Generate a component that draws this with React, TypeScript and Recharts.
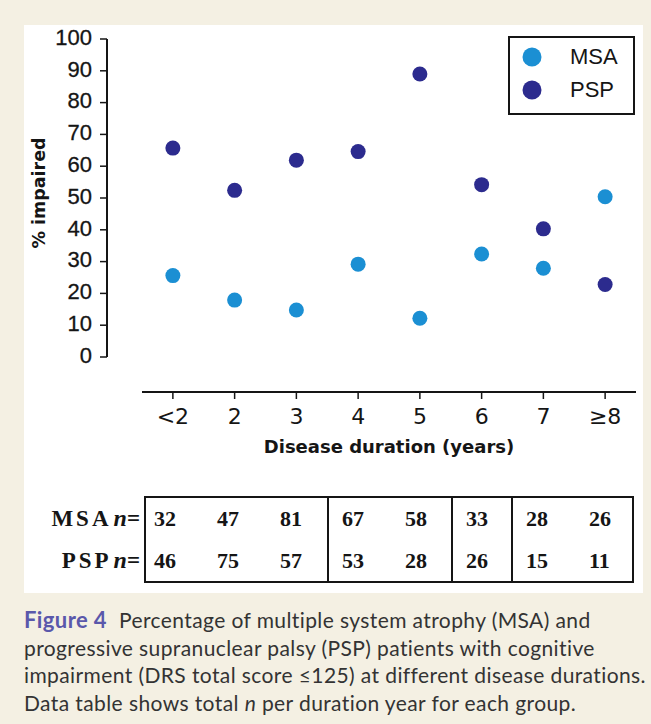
import React from 'react';
import { ScatterChart, Scatter, XAxis, YAxis, Legend } from 'recharts';

// ---------- data ----------
const CATEGORIES = ['<2', '2', '3', '4', '5', '6', '7', '≥8'];
const MSA_VALUES = [25.6, 17.9, 14.8, 29.2, 12.2, 32.4, 27.9, 50.4];
const PSP_VALUES = [65.7, 52.4, 61.9, 64.6, 89.0, 54.2, 40.3, 22.8];
const Y_TICKS = [0, 10, 20, 30, 40, 50, 60, 70, 80, 90, 100];
const MSA_N = [32, 47, 81, 67, 58, 33, 28, 26];
const PSP_N = [46, 75, 57, 53, 28, 26, 15, 11];
const TABLE_GROUPS = [3, 2, 1, 2];
const X_TITLE = 'Disease duration (years)';
const Y_TITLE = '% impaired';

// ---------- styles ----------
const BEIGE = '#f4f0e3';
const INK = '#151515';
const MSA_COLOR = '#1b8fd3';
const PSP_COLOR = '#2c2b8e';
const SERIES = [
  { name: 'MSA', color: MSA_COLOR, values: MSA_VALUES, n: MSA_N },
  { name: 'PSP', color: PSP_COLOR, values: PSP_VALUES, n: PSP_N },
];
const GROUP_WIDTHS = [181, 124, 60, 121];
const GROUP_PAD = [8, 13, 13, 13];

const buildData = (values: number[]) => CATEGORIES.map((cat, i) => ({ cat, value: values[i] }));

const Dot = (props: any) => {
  const { cx, cy, fill } = props;
  if (cx == null || cy == null) return null;
  return <circle cx={cx} cy={cy} r={7.5} fill={fill} />;
};

const YTitle = (props: any) => {
  const vb = props.viewBox || {};
  const cx = vb.x + 39;
  const cy = vb.y + vb.height / 2 - 5;
  return (
    <text
      x={cx}
      y={cy}
      transform={`rotate(-90 ${cx} ${cy})`}
      textAnchor="middle"
      dominantBaseline="central"
      style={{ fontFamily: 'DejaVu Sans', fontWeight: 700, fontSize: 17.5, fill: INK }}
    >
      {Y_TITLE}
    </text>
  );
};

const XTitle = (props: any) => {
  const vb = props.viewBox || {};
  const cx = vb.x + vb.width / 2;
  const cy = vb.y + 61;
  return (
    <text
      x={cx}
      y={cy}
      textAnchor="middle"
      style={{ fontFamily: 'DejaVu Sans', fontWeight: 700, fontSize: 18, fill: INK }}
    >
      {X_TITLE}
    </text>
  );
};

const LegendBox = () => (
  <div
    style={{
      width: 127,
      height: 79,
      boxSizing: 'border-box',
      border: `2px solid ${INK}`,
      background: '#fff',
      paddingTop: 8,
      paddingLeft: 12,
    }}
  >
    {SERIES.map((s, i) => (
      <div key={s.name} style={{ display: 'flex', alignItems: 'center', height: 22, marginTop: i === 0 ? 0 : 11 }}>
        <svg width={20} height={20}>
          <circle cx={10} cy={10} r={9.5} fill={s.color} />
        </svg>
        <span
          style={{
            marginLeft: 28,
            fontFamily: 'Liberation Sans',
            fontSize: 22,
            color: INK,
            lineHeight: '22px',
          }}
        >
          {s.name}
        </span>
      </div>
    ))}
  </div>
);

const DataTable = () => {
  let start = 0;
  const groups = TABLE_GROUPS.map((count, gi) => {
    const cols = CATEGORIES.slice(start, start + count).map((_, k) => start + k);
    start += count;
    return { cols, gi };
  });
  const rowStyle: React.CSSProperties = { height: 41.5, lineHeight: '41.5px', whiteSpace: 'nowrap' };
  return (
    <>
      <div
        style={{
          position: 'absolute',
          left: 0,
          top: 498,
          width: 140,
          textAlign: 'right',
          fontFamily: 'Liberation Serif',
          fontSize: 23,
          color: INK,
        }}
      >
        {SERIES.map((s) => (
          <div key={s.name} style={rowStyle}>
            <b style={{ letterSpacing: 3 }}>{s.name}</b>
            <i style={{ fontWeight: 700, fontSize: 24, marginLeft: 2 }}>n</i>
            <b>=</b>
          </div>
        ))}
      </div>
      <div
        style={{
          position: 'absolute',
          left: 144,
          top: 496,
          height: 87,
          boxSizing: 'border-box',
          border: `2px solid ${INK}`,
          display: 'flex',
          fontFamily: 'Liberation Serif',
          fontWeight: 700,
          fontSize: 22,
          color: INK,
        }}
      >
        {groups.map(({ cols, gi }) => (
          <div
            key={gi}
            style={{
              width: GROUP_WIDTHS[gi],
              boxSizing: 'border-box',
              borderLeft: gi === 0 ? 'none' : `2px solid ${INK}`,
              paddingLeft: GROUP_PAD[gi],
            }}
          >
            {SERIES.map((s) => (
              <div key={s.name} style={rowStyle}>
                {cols.map((c) => (
                  <span key={c} style={{ display: 'inline-block', width: 63 }}>
                    {s.n[c]}
                  </span>
                ))}
              </div>
            ))}
          </div>
        ))}
      </div>
    </>
  );
};

export default function App() {
  return (
    <div
      style={{
        position: 'absolute',
        left: 0,
        top: 0,
        width: 651,
        height: 724,
        background: BEIGE,
        overflow: 'hidden',
      }}
    >
      <div style={{ position: 'absolute', left: 24, top: 25, width: 619, height: 568, background: '#fff' }} />
      <div style={{ position: 'absolute', left: 0, top: 0 }}>
        <ScatterChart width={651} height={462} margin={{ top: 39, right: 15, bottom: 0, left: 0 }}>
          <XAxis xAxisId="gap" type="number" domain={[0, 1]} height={35} tick={false} axisLine={false} tickLine={false} />
          <XAxis
            xAxisId="main"
            dataKey="cat"
            type="category"
            allowDuplicatedCategory={false}
            height={70}
            tickSize={7}
            tickMargin={9}
            axisLine={{ stroke: INK, strokeWidth: 2 }}
            tickLine={{ stroke: INK, strokeWidth: 1.5 }}
            tick={{ fontFamily: 'DejaVu Sans', fontSize: 22, fill: INK }}
            interval={0}
            label={<XTitle />}
          />
          <YAxis yAxisId="gap" type="number" domain={[0, 1]} width={35} tick={false} axisLine={false} tickLine={false} />
          <YAxis
            yAxisId="main"
            dataKey="value"
            type="number"
            domain={[0, 100]}
            ticks={Y_TICKS}
            interval={0}
            width={107}
            tickSize={7}
            tickMargin={8}
            axisLine={{ stroke: INK, strokeWidth: 2 }}
            tickLine={{ stroke: INK, strokeWidth: 1.5 }}
            tick={{ fontFamily: 'Liberation Sans', fontSize: 22, fill: INK, dy: -2, stroke: INK, strokeWidth: 0.3 }}
            label={<YTitle />}
          />
          <Legend
            layout="vertical"
            align="center"
            verticalAlign="middle"
            content={<LegendBox />}
            wrapperStyle={{ position: 'absolute', left: 508, top: 36, width: 127, height: 79 }}
          />
          {SERIES.map((s) => (
            <Scatter
              key={s.name}
              name={s.name}
              data={buildData(s.values)}
              xAxisId="main"
              yAxisId="main"
              fill={s.color}
              shape={<Dot />}
              isAnimationActive={false}
            />
          ))}
        </ScatterChart>
      </div>
      <DataTable />
      <div
        style={{
          position: 'absolute',
          left: 24,
          top: 606,
          width: 640,
          fontFamily: 'Lato',
          fontSize: 21,
          letterSpacing: 0.4,
          lineHeight: '27.5px',
          color: '#333',
          whiteSpace: 'nowrap',
        }}
      >
        <span style={{ color: '#5a58ab', fontWeight: 700, fontSize: 22, marginRight: 12 }}>Figure 4</span>
        {'Percentage of multiple system atrophy (MSA) and'}
        <br />
        progressive supranuclear palsy (PSP) patients with cognitive
        <br />
        impairment (DRS total score ≤125) at different disease durations.
        <br />
        Data table shows total <i>n</i> per duration year for each group.
      </div>
    </div>
  );
}
